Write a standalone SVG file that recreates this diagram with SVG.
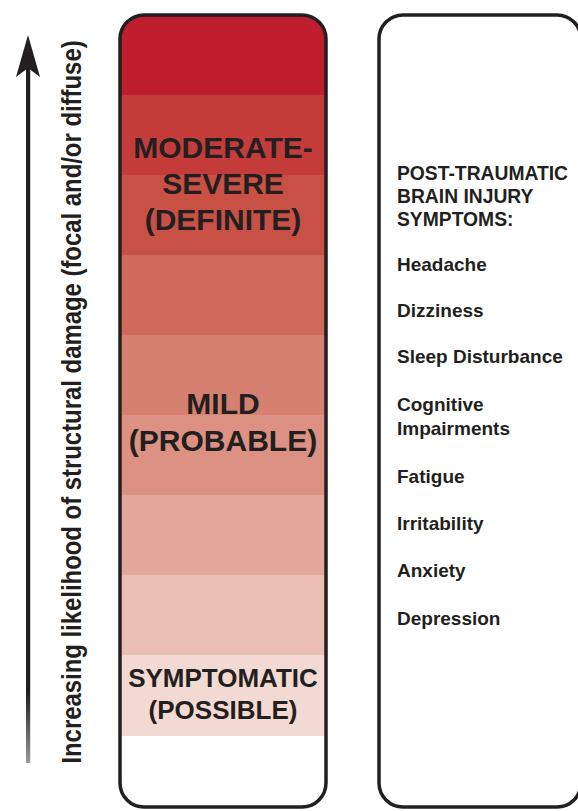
<svg xmlns="http://www.w3.org/2000/svg" width="578" height="811" viewBox="0 0 578 811">
<style>
.t{font-family:"Liberation Sans",Arial,sans-serif;font-weight:bold;fill:#231f20}
.bar{font-size:30px;text-anchor:middle}
.sym{font-size:19px}
.hd{font-size:19.3px}
.frame{fill:none;stroke:#231f20;stroke-width:3.5}
</style>
<defs>
<clipPath id="barclip"><rect x="120" y="15" width="206" height="792" rx="24" ry="24"/></clipPath>
<linearGradient id="fade" x1="0" y1="0" x2="0" y2="1">
<stop offset="0" stop-color="#231f20"/>
<stop offset="0.9" stop-color="#231f20"/>
<stop offset="1" stop-color="#9a9a9a"/>
</linearGradient>
</defs>
<rect width="578" height="811" fill="#ffffff"/>
<g id="axis">
<rect x="26" y="66" width="4.2" height="697" fill="url(#fade)"/>
<polygon points="28,35 16,77 28,68 40,77" fill="#231f20"/>
<text class="t" transform="translate(81,402) rotate(-90) scale(1,1.14)" text-anchor="middle" font-size="23.9">Increasing likelihood of structural damage (focal and/or diffuse)</text>
</g>
<g id="severity-bar">
<g clip-path="url(#barclip)">
<rect x="118" y="10" width="212" height="85" fill="#be1e2d"/>
<rect x="118" y="95" width="212" height="80" fill="#c43c3a"/>
<rect x="118" y="175" width="212" height="80" fill="#c85044"/>
<rect x="118" y="255" width="212" height="80" fill="#cf695a"/>
<rect x="118" y="335" width="212" height="80" fill="#d58070"/>
<rect x="118" y="415" width="212" height="80" fill="#dc9182"/>
<rect x="118" y="495" width="212" height="80" fill="#e3a89b"/>
<rect x="118" y="575" width="212" height="80" fill="#eabeb2"/>
<rect x="118" y="655" width="212" height="81" fill="#f2dad3"/>
<rect x="118" y="736" width="212" height="80" fill="#ffffff"/>
</g>
<rect class="frame" x="120" y="15" width="206" height="792" rx="24" ry="24"/>
</g>
<g id="moderate-severe">
<text class="t bar" x="223" y="158">MODERATE-</text>
<text class="t bar" x="223" y="194">SEVERE</text>
<text class="t bar" x="223" y="230">(DEFINITE)</text>
</g>
<g id="mild">
<text class="t bar" x="223" y="414">MILD</text>
<text class="t bar" x="223" y="451">(PROBABLE)</text>
</g>
<g id="symptomatic">
<text class="t" x="223" y="687" font-size="26" text-anchor="middle">SYMPTOMATIC</text>
<text class="t" x="223" y="719" font-size="26" text-anchor="middle">(POSSIBLE)</text>
</g>
<g id="symptoms-panel">
<rect class="frame" x="379" y="15" width="202" height="792" rx="24" ry="24"/>
<text class="t hd" x="397" y="180">POST-TRAUMATIC</text>
<text class="t hd" x="397" y="203">BRAIN INJURY</text>
<text class="t hd" x="397" y="226">SYMPTOMS:</text>
<text class="t sym" x="397" y="271">Headache</text>
<text class="t sym" x="397" y="317">Dizziness</text>
<text class="t sym" x="397" y="363">Sleep Disturbance</text>
<text class="t sym" x="397" y="411">Cognitive</text>
<text class="t sym" x="397" y="435">Impairments</text>
<text class="t sym" x="397" y="483">Fatigue</text>
<text class="t sym" x="397" y="530">Irritability</text>
<text class="t sym" x="397" y="577">Anxiety</text>
<text class="t sym" x="397" y="625">Depression</text>
</g>
</svg>
